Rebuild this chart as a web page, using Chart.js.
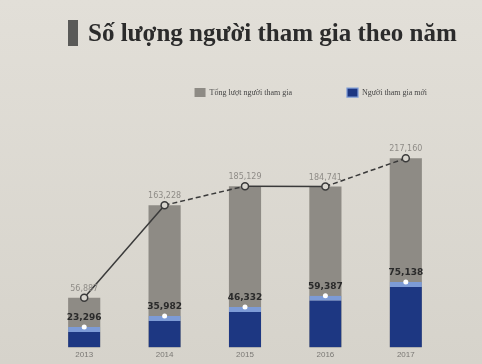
<!DOCTYPE html>
<html>
<head>
<meta charset="utf-8">
<script src="https://cdn.jsdelivr.net/npm/chart.js@4.4.1/dist/chart.umd.min.js"></script>
<style>
  html, body { margin: 0; padding: 0; }
  body {
    width: 482px; height: 364px; overflow: hidden; position: relative;
    background: linear-gradient(#e2dfd8, #d6d3cb);
  }
  #title {
    position: absolute; left: 68px; top: 20px; height: 26px; z-index: 2;
    border-left: 10px solid #5a5a58; padding-left: 10px;
    font-family: "Liberation Serif", "DejaVu Serif", serif; font-weight: bold;
    font-size: 25px; line-height: 26px; color: #2b2b2b; white-space: nowrap;
  }
  #wrap { position: absolute; left: 0; top: 0; width: 482px; height: 364px; z-index: 1; }
</style>
</head>
<body>
<div id="title">Số lượng người tham gia theo năm</div>
<div id="wrap"><canvas id="chart"></canvas></div>
<script>
// Data
const years = ['2013', '2014', '2015', '2016', '2017'];
const totalVisits = [56887, 163228, 185129, 184741, 217160];
const newMembers = [23296, 35982, 46332, 59387, 75138];
const seriesNames = ['Tổng lượt người tham gia', 'Người tham gia mới'];

const grayColor = '#8e8b85';
const blueColor = '#1d3782';

function fmt(v) {
    return v.toLocaleString('en-US');
}

// draws the little value labels above points / bars
const valueLabels = {
    id: 'valueLabels',
    afterDatasetsDraw(chart) {
        const ctx = chart.ctx;
        ctx.save();
        ctx.textAlign = 'center';
        ctx.textBaseline = 'bottom';
        chart.getDatasetMeta(0).data.forEach((pt, i) => {
            ctx.fillStyle = '#8f8c87';
            ctx.font = '8px "DejaVu Sans", sans-serif';
            ctx.fillText(fmt(totalVisits[i]), pt.x, pt.y - 5);
        });
        chart.getDatasetMeta(1).data.forEach((pt, i) => {
            ctx.fillStyle = '#2a2a2a';
            ctx.font = 'bold 9px "DejaVu Sans", sans-serif';
            ctx.fillText(fmt(newMembers[i]), pt.x, pt.y - 5);
        });
        ctx.restore();
    }
};

// invisible axis used only to reserve room at a side
function spacer(w) {
    return {
        display: true,
        grid: { display: false },
        border: { display: false },
        ticks: { display: false },
        afterFit: s => { s.width = w; }
    };
}

const ctx = document.getElementById('chart').getContext('2d');
const chart = new Chart(ctx, {
    data: {
        labels: years,
        datasets: [{
            type: 'line',
            label: 'trend',
            data: totalVisits,
            borderColor: '#3a3a3a',
            borderWidth: 1.5,
            pointRadius: 3.5,
            pointBorderWidth: 1.5,
            pointBackgroundColor: '#d8d5ce',
            pointBorderColor: '#3a3a3a',
            clip: false,
            segment: {
                borderDash: c => (c.p0DataIndex % 2 === 1 ? [5, 3] : undefined)
            },
            order: 0
        }, {
            type: 'line',
            label: 'blueDots',
            data: newMembers,
            showLine: false,
            pointRadius: 2.5,
            pointBorderWidth: 0,
            pointBackgroundColor: '#ffffff',
            clip: false,
            order: 1
        }, {
            type: 'bar',
            label: seriesNames[1],
            data: newMembers,
            backgroundColor: blueColor,
            borderColor: '#7d9bd6',
            borderWidth: { top: 5, left: 0, right: 0, bottom: 0 },
            borderSkipped: false,
            grouped: false,
            barPercentage: 0.4,
            categoryPercentage: 1,
            order: 2
        }, {
            type: 'bar',
            label: seriesNames[0],
            data: totalVisits,
            backgroundColor: grayColor,
            grouped: false,
            barPercentage: 0.4,
            categoryPercentage: 1,
            order: 3
        }]
    },
    options: {
        responsive: true,
        maintainAspectRatio: false,
        animation: false,
        layout: { padding: { left: 0, right: 0, top: 33, bottom: 1 } },
        plugins: {
            legend: {
                position: 'top',
                align: 'end',
                labels: {
                    filter: item => seriesNames.includes(item.text),
                    sort: (a, b) => seriesNames.indexOf(a.text) - seriesNames.indexOf(b.text),
                    boxWidth: 11,
                    boxHeight: 9,
                    padding: 55,
                    color: '#444',
                    font: { size: 8, family: '"Liberation Serif", serif' }
                }
            },
            tooltip: { enabled: false }
        },
        scales: {
            x: {
                grid: { display: false, drawTicks: false },
                border: { display: false },
                ticks: { color: '#7a7874', font: { size: 8 }, padding: 3 }
            },
            y: Object.assign(spacer(44), { position: 'left', min: 0, max: 276000 }),
            yRight: Object.assign(spacer(36), { position: 'right' })
        }
    },
    plugins: [valueLabels]
});
</script>
</body>
</html>
